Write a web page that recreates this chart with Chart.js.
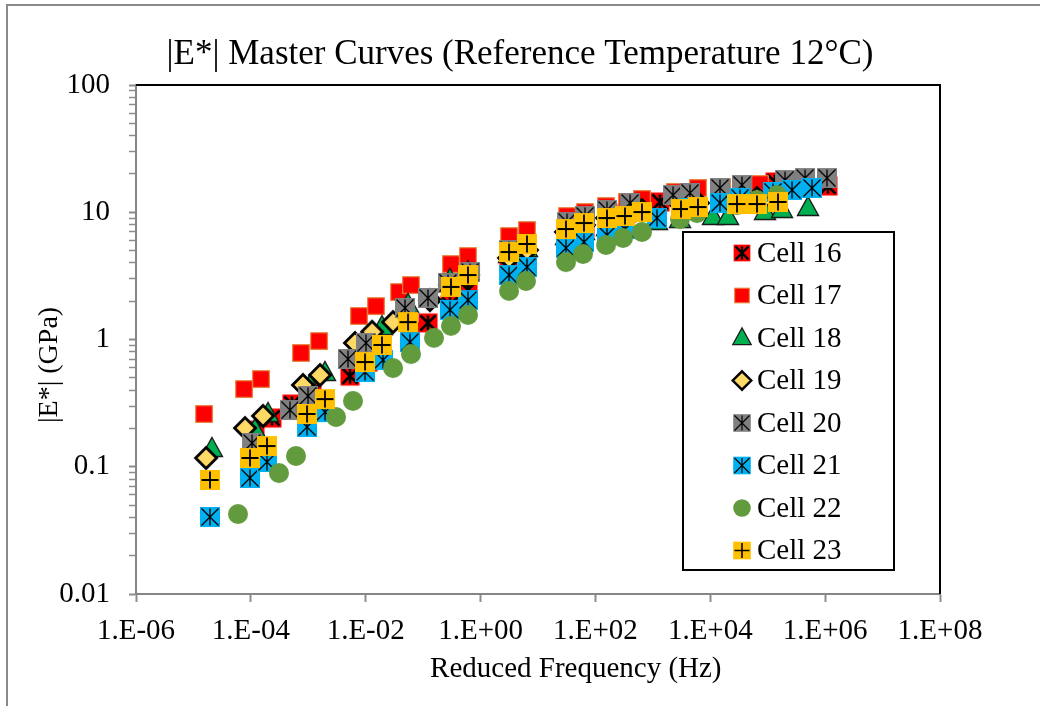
<!DOCTYPE html>
<html>
<head>
<meta charset="utf-8">
<script src="https://cdn.jsdelivr.net/npm/chart.js@4.4.0/dist/chart.umd.min.js"></script>
<style>
html,body{margin:0;padding:0;background:#fff;}
#wrap{position:relative;width:1040px;height:706px;}
</style>
</head>
<body>
<div id="wrap"><canvas id="c" width="1040" height="706"></canvas></div>
<script>
const chartTitle = '|E*| Master Curves (Reference Temperature 12°C)';
const xAxisTitle = 'Reduced Frequency (Hz)';
const yAxisTitle = '|E*| (GPa)';
const seriesNames = ['Cell 16','Cell 17','Cell 18','Cell 19','Cell 20','Cell 21','Cell 22','Cell 23'];
const xTickValues = [1e-6, 1e-4, 1e-2, 1, 1e2, 1e4, 1e6, 1e8];
const yMajorTicks = [0.01, 0.1, 1, 10, 100];

const freq16 = [1.18e-4, 2.33e-4, 5.2e-4, 1.16e-3, 5.32e-3, 1.10e-2, 5.9e-2, 0.1215, 0.2935, 0.604, 3.13, 6.43, 32.0, 65.8, 159, 354, 1331, 4426, 14760, 134000, 365000, 1.12e6];
const mod16  = [0.194, 0.2415, 0.311, 0.387, 0.516, 0.665, 1.15, 1.35, 1.87, 2.45, 4.06, 4.61, 6.62, 7.52, 8.69, 9.86, 12.04, 13.42, 14.43, 17.29, 16.67, 16.08];

const freq17 = [1.53e-5, 7.6e-5, 1.5e-4, 7.46e-4, 1.54e-3, 7.64e-3, 1.51e-2, 3.8e-2, 6.14e-2, 0.3055, 0.604, 3.13, 6.43, 32.0, 65.8, 152.8, 354, 647, 2427, 6109, 15990, 73300, 365000];
const mod17  = [0.260, 0.408, 0.489, 0.784, 0.973, 1.53, 1.83, 2.36, 2.68, 3.92, 4.53, 6.50, 7.25, 9.34, 10.04, 11.19, 12.04, 12.71, 14.43, 15.51, 15.79, 16.67, 17.92];

const freq18 = [2.1e-5, 1.18e-4, 1.99e-4, 1.07e-3, 1.95e-3, 9.72e-3, 1.92e-2, 5.45e-2, 0.2935, 0.604, 3.13, 6.43, 30.7, 63.2, 159, 327, 1180, 2965, 11140, 20320, 89540, 177000, 502000];
const mod18  = [0.1379, 0.1944, 0.260, 0.431, 0.546, 0.991, 1.25, 1.87, 2.94, 3.39, 4.61, 5.14, 6.39, 7.00, 7.52, 7.94, 8.38, 8.69, 9.18, 9.18, 10.04, 10.41, 10.80];

const freq19 = [1.66e-5, 7.91e-5, 1.63e-4, 8.09e-4, 1.6e-3, 6.5e-3, 1.29e-2, 2.99e-2, 0.1315, 0.2935, 0.604, 3.13, 6.43, 30.7, 63.2, 159, 327, 647, 3090, 6109, 29170, 65010];
const mod19  = [0.1172, 0.2016, 0.251, 0.439, 0.526, 0.939, 1.15, 1.37, 2.04, 2.68, 3.21, 4.37, 5.05, 7.00, 7.94, 9.01, 9.51, 10.41, 11.40, 11.82, 12.48, 12.94];

const freq20 = [1.047e-4, 4.8e-4, 9.89e-4, 4.91e-3, 1.01e-2, 4.83e-2, 0.1215, 0.2708, 0.655, 3.13, 6.43, 32.0, 65.8, 159, 400, 2244, 4426, 14760, 35650, 200000, 446000, 1.076e6];
const mod20  = [0.1537, 0.279, 0.360, 0.703, 0.939, 1.77, 2.12, 2.78, 3.39, 5.05, 5.63, 8.38, 9.34, 10.41, 11.82, 13.66, 14.17, 15.51, 16.37, 17.92, 18.58, 18.58];

const freq21 = [1.94e-5, 9.66e-5, 1.91e-4, 9.5e-4, 1.95e-3, 9.72e-3, 2.0e-2, 5.9e-2, 0.2935, 0.604, 3.13, 6.43, 30.7, 63.2, 159, 327, 1180, 4426, 14760, 32890, 123600, 265000, 590000];
const mod21  = [0.0403, 0.0816, 0.109, 0.2053, 0.269, 0.555, 0.690, 0.954, 1.71, 2.04, 3.21, 3.71, 5.24, 5.83, 6.62, 7.38, 9.01, 10.80, 11.82, 12.94, 14.43, 14.96, 15.51];

const freq22 = [5.97e-5, 3.09e-4, 6.1e-4, 3.04e-3, 6.0e-3, 2.99e-2, 6.14e-2, 0.1545, 0.3055, 0.604, 3.13, 6.18, 30.7, 60.7, 152.8, 302, 647, 2965, 5861, 29170, 65010, 145000];
const mod22  = [0.0425, 0.0893, 0.1215, 0.246, 0.329, 0.597, 0.769, 1.03, 1.28, 1.56, 2.41, 2.88, 4.06, 4.70, 5.53, 6.28, 7.00, 8.85, 9.86, 11.40, 12.48, 13.66];

const freq23 = [1.94e-5, 9.66e-5, 1.91e-4, 9.5e-4, 1.95e-3, 9.72e-3, 1.92e-2, 5.45e-2, 0.3055, 0.604, 3.13, 6.43, 30.7, 63.2, 159, 327, 647, 3090, 6109, 29170, 65010, 151000];
const mod23  = [0.0787, 0.1172, 0.1455, 0.260, 0.340, 0.665, 0.906, 1.37, 2.59, 3.21, 4.87, 5.63, 7.38, 8.23, 9.01, 9.34, 10.04, 10.60, 10.99, 11.61, 11.61, 12.04];

const seriesFreq = [freq16, freq17, freq18, freq19, freq20, freq21, freq22, freq23];
const seriesMod  = [mod16, mod17, mod18, mod19, mod20, mod21, mod22, mod23];
const markerKinds = ['redStar','redSquare','triangle','diamond','grayStar','blueStar','circle','orangePlus'];

const FONT = "'Liberation Serif', 'Times New Roman', serif";

// ---------- marker drawing ----------
function sq(g, h, fill, stroke, lw) {
  g.fillStyle = fill; g.fillRect(-h, -h, 2*h, 2*h);
  if (stroke) { g.strokeStyle = stroke; g.lineWidth = lw; g.strokeRect(-h, -h, 2*h, 2*h); }
}
function asterisk(g, h, lw) {
  g.strokeStyle = '#000'; g.lineWidth = lw; g.lineCap = 'butt';
  g.beginPath();
  g.moveTo(-h, -h); g.lineTo(h, h);
  g.moveTo(-h, h); g.lineTo(h, -h);
  g.moveTo(0, -h); g.lineTo(0, h);
  g.stroke();
}
function drawMarker(g, kind, cx, cy, s) {
  g.save();
  g.translate(cx, cy);
  g.scale(s, s);
  switch (kind) {
    case 'redStar':
      sq(g, 9.5, '#FF0000', null, 0);
      asterisk(g, 7.5, 2.6);
      break;
    case 'redSquare':
      sq(g, 8.3, '#FF0000', '#E8803A', 1.2);
      break;
    case 'triangle':
      g.beginPath();
      g.moveTo(0, -11.5); g.lineTo(10.5, 7.5); g.lineTo(-10.5, 7.5); g.closePath();
      g.fillStyle = '#00B050'; g.fill();
      g.strokeStyle = '#1a1a1a'; g.lineWidth = 1.4; g.stroke();
      break;
    case 'diamond':
      g.beginPath();
      g.moveTo(0, -10.5); g.lineTo(10.5, 0); g.lineTo(0, 10.5); g.lineTo(-10.5, 0); g.closePath();
      g.fillStyle = '#FFD966'; g.fill();
      g.strokeStyle = '#000'; g.lineWidth = 2.8; g.lineJoin = 'miter'; g.stroke();
      break;
    case 'grayStar':
      sq(g, 10, '#808080', null, 0);
      asterisk(g, 8.5, 1.3);
      break;
    case 'blueStar':
      sq(g, 10, '#00B0F0', null, 0);
      asterisk(g, 8.5, 1.3);
      break;
    case 'circle':
      g.beginPath(); g.arc(0, 0, 10, 0, Math.PI*2);
      g.fillStyle = '#629A3E'; g.fill();
      break;
    case 'orangePlus':
      sq(g, 10, '#FFC000', null, 0);
      g.strokeStyle = '#000'; g.lineWidth = 1.8;
      g.beginPath();
      g.moveTo(-8.5, 0); g.lineTo(8.5, 0);
      g.moveTo(0, -8.5); g.lineTo(0, 8.5);
      g.stroke();
      break;
  }
  g.restore();
}
function markerCanvas(kind) {
  const c = document.createElement('canvas');
  c.width = 30; c.height = 30;
  drawMarker(c.getContext('2d'), kind, 15, 15, 1);
  return c;
}

// ---------- ticks ----------
const yTickValues = [];
for (let i = 0; i < yMajorTicks.length - 1; i++) {
  for (let k = 1; k <= 9; k++) yTickValues.push(+(k * yMajorTicks[i]).toPrecision(6));
}
yTickValues.push(yMajorTicks[yMajorTicks.length - 1]);
const isMajorY = v => yMajorTicks.some(m => Math.abs(m - v) / m < 1e-9);

function xLabel(v) {
  const e = Math.round(Math.log10(v));
  const sign = e < 0 ? '-' : '+';
  const a = Math.abs(e);
  return '1.E' + sign + (a < 10 ? '0' + a : '' + a);
}
function yLabel(v) {
  return isMajorY(v) ? String(v) : '';
}

// ---------- datasets ----------
const datasets = seriesNames.map((name, i) => ({
  label: name,
  data: seriesFreq[i].map((f, j) => ({ x: f, y: seriesMod[i][j] })),
  pointStyle: markerCanvas(markerKinds[i]),
  pointRadius: 10,
  showLine: false,
  order: seriesNames.length - 1 - i
}));

// ---------- plugins ----------
const framePlugin = {
  id: 'frame',
  beforeDraw(chart) {
    const g = chart.ctx;
    g.save();
    g.fillStyle = '#fff';
    g.fillRect(0, 0, chart.width, chart.height);
    g.strokeStyle = '#8a8a8a';
    g.lineWidth = 2;
    g.beginPath();
    g.moveTo(7, 706); g.lineTo(7, 5); g.lineTo(1040, 5);
    g.stroke();
    g.restore();
  },
  beforeDatasetsDraw(chart) {
    const a = chart.chartArea, g = chart.ctx;
    g.save();
    g.strokeStyle = '#000';
    g.lineWidth = 2;
    g.beginPath();
    g.moveTo(a.left, a.top); g.lineTo(a.right, a.top); g.lineTo(a.right, a.bottom);
    g.stroke();
    g.restore();
  },
  afterDraw(chart) {
    const a = chart.chartArea, g = chart.ctx;
    g.save();
    g.fillStyle = '#000';
    g.textAlign = 'center';
    g.textBaseline = 'middle';
    // chart title, centred on the canvas
    g.font = '35px ' + FONT;
    g.fillText(chartTitle, chart.width / 2, a.top - 30);
    // x axis title
    g.font = '29px ' + FONT;
    g.fillText(xAxisTitle, a.left + 0.547 * (a.right - a.left), a.bottom + 75);
    // y axis title
    g.translate(50, a.top + 0.55 * (a.bottom - a.top));
    g.rotate(-Math.PI / 2);
    g.font = '28px ' + FONT;
    g.fillText(yAxisTitle, 0, 0);
    g.restore();
  }
};

const legendBoxPlugin = {
  id: 'legendBox',
  afterDatasetsDraw(chart) {
    const a = chart.chartArea, g = chart.ctx;
    const left = a.right - 257, top = a.top + 147, w = 211, h = 338;
    g.save();
    g.fillStyle = '#fff';
    g.fillRect(left, top, w, h);
    g.strokeStyle = '#000';
    g.lineWidth = 2;
    g.strokeRect(left, top, w, h);
    g.font = '29px ' + FONT;
    g.fillStyle = '#000';
    g.textBaseline = 'middle';
    g.textAlign = 'left';
    chart.data.datasets.forEach((ds, i) => {
      const cy = top + 21 + i * 42.5;
      drawMarker(g, markerKinds[i], left + 59, cy, 0.88);
      g.fillText(ds.label, left + 74, cy + 1);
    });
    g.restore();
  }
};

new Chart(document.getElementById('c'), {
  type: 'scatter',
  data: { datasets },
  options: {
    responsive: false,
    animation: false,
    devicePixelRatio: 1,
    events: [],
    layout: { padding: { top: 85, right: 100, bottom: 0, left: 0 } },
    plugins: {
      legend: { display: false },
      tooltip: { enabled: false },
      title: { display: false }
    },
    scales: {
      x: {
        type: 'logarithmic',
        position: 'bottom',
        min: 1e-6,
        max: 1e8,
        afterBuildTicks: s => { s.ticks = xTickValues.map(v => ({ value: v })); },
        afterFit: s => { s.height = 112; },
        ticks: {
          autoSkip: false,
          maxRotation: 0,
          padding: 12,
          color: '#000',
          font: { family: FONT, size: 29 },
          callback: v => xLabel(v)
        },
        grid: { drawOnChartArea: false, drawTicks: true, tickLength: 8, tickColor: '#8c8c8c', tickWidth: 2 },
        border: { display: true, color: '#868686', width: 2 },
        title: { display: false }
      },
      y: {
        type: 'logarithmic',
        position: 'left',
        min: 0.01,
        max: 100,
        afterBuildTicks: s => { s.ticks = yTickValues.map(v => ({ value: v })); },
        afterFit: s => { s.width = 136; },
        ticks: {
          autoSkip: false,
          padding: 19,
          color: '#000',
          font: { family: FONT, size: 29 },
          callback: v => yLabel(v)
        },
        grid: {
          drawOnChartArea: false, drawTicks: true, tickLength: 7,
          tickColor: '#8c8c8c',
          tickWidth: c => (c.tick && isMajorY(c.tick.value)) ? 2 : 1.5
        },
        border: { display: true, color: '#868686', width: 2 },
        title: { display: false }
      }
    }
  },
  plugins: [framePlugin, legendBoxPlugin]
});
</script>
</body>
</html>
